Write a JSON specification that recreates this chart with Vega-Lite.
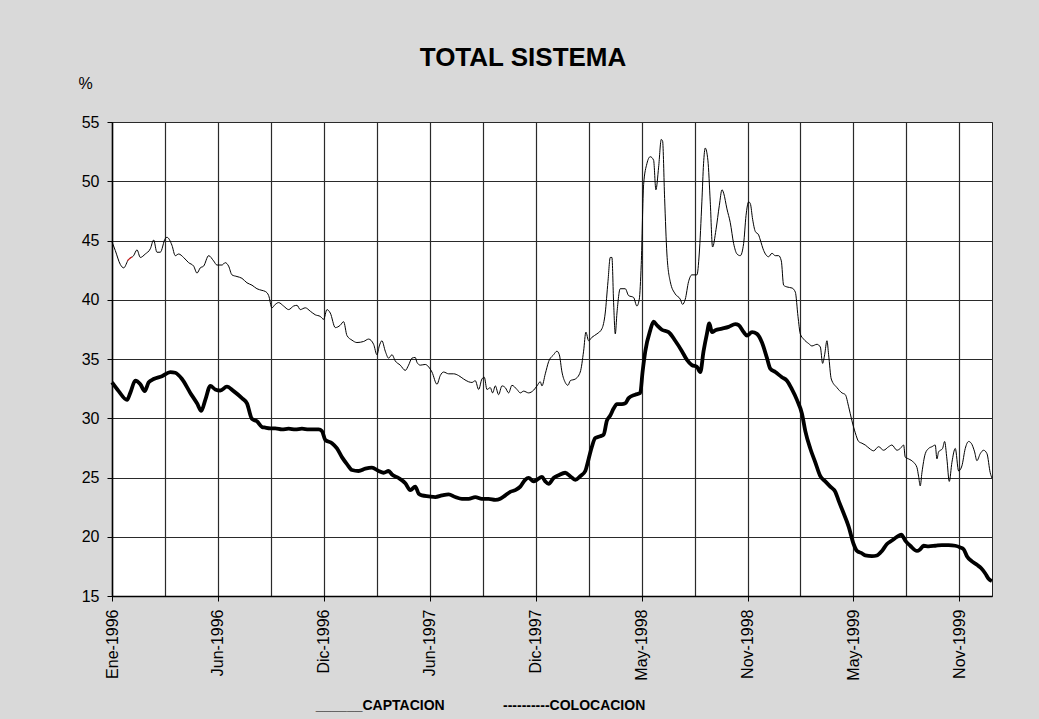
{
  "$schema": "https://vega.github.io/schema/vega-lite/v6.json",
  "width": 880,
  "height": 474,
  "autosize": {"type": "none"},
  "padding": {"left": 112, "top": 122, "right": 47, "bottom": 123},
  "background": "#d9d9d9",
  "title": {
    "text": "TOTAL SISTEMA",
    "font": "Liberation Sans",
    "fontSize": 26,
    "fontWeight": "bold",
    "color": "#000000",
    "anchor": "middle",
    "frame": "group",
    "dx": -29
  },
  "config": {
    "font": "Liberation Sans",
    "view": {"fill": "#ffffff", "stroke": "#222222", "strokeWidth": 1}
  },
  "datasets": {
    "colocacion": [
      {"dia":0,"tasa":44.89},{"dia":3.7,"tasa":44.16},{"dia":9.4,"tasa":42.98},{"dia":13.2,"tasa":42.69},{"dia":18.8,"tasa":43.42},{"dia":24.5,"tasa":43.72},{"dia":28.3,"tasa":44.21},{"dia":32.1,"tasa":43.57},{"dia":37.7,"tasa":43.86},{"dia":43.4,"tasa":44.3},{"dia":47.2,"tasa":45.04},{"dia":50.9,"tasa":44.01},{"dia":54.7,"tasa":44.01},{"dia":60.4,"tasa":45.18},{"dia":62.3,"tasa":45.27},{"dia":67.9,"tasa":44.6},{"dia":71.7,"tasa":43.72},{"dia":75.5,"tasa":43.86},{"dia":81.1,"tasa":43.57},{"dia":86.8,"tasa":43.13},{"dia":92.5,"tasa":42.84},{"dia":96.3,"tasa":42.25},{"dia":100,"tasa":42.69},{"dia":103.8,"tasa":42.84},{"dia":109.5,"tasa":43.72},{"dia":115.1,"tasa":43.28},{"dia":118.9,"tasa":42.93},{"dia":124.6,"tasa":42.93},{"dia":128.3,"tasa":43.13},{"dia":132.1,"tasa":42.84},{"dia":135.9,"tasa":42.1},{"dia":141.6,"tasa":41.96},{"dia":147.2,"tasa":41.81},{"dia":152.9,"tasa":41.43},{"dia":158.6,"tasa":41.23},{"dia":164.2,"tasa":40.93},{"dia":169.9,"tasa":40.79},{"dia":173.7,"tasa":40.7},{"dia":177.5,"tasa":40.35},{"dia":181.2,"tasa":39.32},{"dia":185,"tasa":39.61},{"dia":188.8,"tasa":39.76},{"dia":194.4,"tasa":39.47},{"dia":200.1,"tasa":39.17},{"dia":205.8,"tasa":39.47},{"dia":209.6,"tasa":39.53},{"dia":213.3,"tasa":39.17},{"dia":219,"tasa":39.32},{"dia":224.7,"tasa":39.03},{"dia":230.3,"tasa":38.73},{"dia":236,"tasa":38.59},{"dia":239.8,"tasa":38.35},{"dia":243.5,"tasa":39.17},{"dia":247.3,"tasa":38.88},{"dia":253,"tasa":37.65},{"dia":258.6,"tasa":37.85},{"dia":262.4,"tasa":38.15},{"dia":266.2,"tasa":36.98},{"dia":271.9,"tasa":36.59},{"dia":277.5,"tasa":36.39},{"dia":285.1,"tasa":36.48},{"dia":290.7,"tasa":36.68},{"dia":296.4,"tasa":36.24},{"dia":300.2,"tasa":35.36},{"dia":302.8,"tasa":36.1},{"dia":305.8,"tasa":36.54},{"dia":309.6,"tasa":35.66},{"dia":313.4,"tasa":35.07},{"dia":317.2,"tasa":35.36},{"dia":320.9,"tasa":34.84},{"dia":326.6,"tasa":34.48},{"dia":332.3,"tasa":34.04},{"dia":336,"tasa":34.48},{"dia":339.8,"tasa":35.07},{"dia":343.6,"tasa":35.13},{"dia":345.5,"tasa":34.72},{"dia":349.3,"tasa":34.48},{"dia":354.9,"tasa":34.54},{"dia":358.7,"tasa":34.34},{"dia":362.5,"tasa":33.9},{"dia":368.2,"tasa":32.87},{"dia":371.9,"tasa":33.6},{"dia":375.7,"tasa":33.9},{"dia":381.4,"tasa":33.75},{"dia":387.1,"tasa":33.75},{"dia":392.7,"tasa":33.6},{"dia":398.4,"tasa":33.31},{"dia":404,"tasa":33.08},{"dia":407.8,"tasa":33.02},{"dia":411.6,"tasa":33.17},{"dia":415.4,"tasa":32.43},{"dia":419.1,"tasa":33.31},{"dia":421.8,"tasa":33.46},{"dia":424.8,"tasa":32.43},{"dia":428.6,"tasa":32.58},{"dia":431.2,"tasa":32.14},{"dia":434.3,"tasa":32.73},{"dia":438,"tasa":31.99},{"dia":441.8,"tasa":32.73},{"dia":445.6,"tasa":32.58},{"dia":449.4,"tasa":32.14},{"dia":453.1,"tasa":32.78},{"dia":458.8,"tasa":32.43},{"dia":462.6,"tasa":32.14},{"dia":466.4,"tasa":32.29},{"dia":472,"tasa":32.14},{"dia":477.7,"tasa":32.37},{"dia":481.5,"tasa":32.73},{"dia":485.2,"tasa":33.08},{"dia":487.1,"tasa":32.73},{"dia":490.9,"tasa":33.75},{"dia":494.7,"tasa":34.78},{"dia":500.3,"tasa":35.36},{"dia":504.1,"tasa":35.66},{"dia":506.8,"tasa":35.36},{"dia":509.8,"tasa":33.9},{"dia":513.5,"tasa":33.02},{"dia":516.6,"tasa":32.78},{"dia":519.2,"tasa":33.17},{"dia":524.9,"tasa":33.31},{"dia":530.5,"tasa":33.9},{"dia":534.3,"tasa":35.66},{"dia":536.9,"tasa":37.27},{"dia":540,"tasa":36.54},{"dia":543.7,"tasa":36.83},{"dia":549.4,"tasa":37.12},{"dia":555.1,"tasa":37.56},{"dia":558.8,"tasa":38.88},{"dia":561.9,"tasa":41.52},{"dia":564.5,"tasa":43.57},{"dia":566.4,"tasa":43.57},{"dia":568.3,"tasa":39.76},{"dia":570.2,"tasa":37.12},{"dia":572.1,"tasa":38.88},{"dia":575.8,"tasa":40.93},{"dia":581.5,"tasa":40.93},{"dia":585.3,"tasa":40.35},{"dia":590.9,"tasa":40.2},{"dia":594.7,"tasa":39.47},{"dia":597.4,"tasa":40.05},{"dia":599.6,"tasa":42.98},{"dia":602.3,"tasa":49.72},{"dia":606,"tasa":51.48},{"dia":609.8,"tasa":52.07},{"dia":613.6,"tasa":51.78},{"dia":616.2,"tasa":49.28},{"dia":619.3,"tasa":51.19},{"dia":622.3,"tasa":53.53},{"dia":623.8,"tasa":53.39},{"dia":626.1,"tasa":48.55},{"dia":628.7,"tasa":43.86},{"dia":632.5,"tasa":41.52},{"dia":638.1,"tasa":40.49},{"dia":643.8,"tasa":40.05},{"dia":646.4,"tasa":39.61},{"dia":649.5,"tasa":40.05},{"dia":653.2,"tasa":41.52},{"dia":657,"tasa":42.1},{"dia":662.7,"tasa":42.1},{"dia":665.3,"tasa":43.86},{"dia":668.3,"tasa":48.26},{"dia":670.2,"tasa":51.48},{"dia":672.1,"tasa":52.8},{"dia":675.1,"tasa":51.78},{"dia":677.8,"tasa":48.26},{"dia":680.4,"tasa":44.45},{"dia":684.3,"tasa":45.91},{"dia":688.1,"tasa":47.97},{"dia":691.1,"tasa":49.28},{"dia":693,"tasa":48.99},{"dia":696.7,"tasa":47.67},{"dia":700.5,"tasa":46.5},{"dia":704.3,"tasa":44.74},{"dia":708.1,"tasa":43.86},{"dia":711.8,"tasa":43.72},{"dia":715.6,"tasa":44.74},{"dia":718.3,"tasa":47.09},{"dia":721.3,"tasa":48.26},{"dia":723.2,"tasa":48.11},{"dia":725.8,"tasa":46.79},{"dia":728.8,"tasa":45.77},{"dia":732.6,"tasa":45.47},{"dia":734.5,"tasa":45.04},{"dia":738.3,"tasa":44.16},{"dia":743.9,"tasa":43.63},{"dia":747.7,"tasa":43.92},{"dia":751.5,"tasa":43.72},{"dia":755.3,"tasa":43.72},{"dia":758.3,"tasa":43.28},{"dia":760.9,"tasa":41.23},{"dia":764.7,"tasa":41.08},{"dia":770.4,"tasa":40.99},{"dia":774.2,"tasa":40.64},{"dia":777.2,"tasa":38.59},{"dia":779.8,"tasa":37.12},{"dia":783.6,"tasa":36.68},{"dia":789.3,"tasa":36.3},{"dia":793,"tasa":36.1},{"dia":798.7,"tasa":36.24},{"dia":802.5,"tasa":36.01},{"dia":805.1,"tasa":34.63},{"dia":807.4,"tasa":35.36},{"dia":810,"tasa":36.54},{"dia":811.9,"tasa":35.36},{"dia":814.9,"tasa":33.31},{"dia":821.4,"tasa":32.58},{"dia":827,"tasa":32.14},{"dia":830.8,"tasa":31.99},{"dia":834.6,"tasa":30.97},{"dia":838.3,"tasa":29.79},{"dia":842.1,"tasa":28.77},{"dia":845.9,"tasa":28.04},{"dia":849.7,"tasa":27.89},{"dia":853.4,"tasa":27.74},{"dia":859.1,"tasa":27.39},{"dia":862.9,"tasa":27.25},{"dia":868.5,"tasa":27.6},{"dia":874.2,"tasa":27.3},{"dia":879.9,"tasa":27.6},{"dia":883.6,"tasa":27.74},{"dia":889.3,"tasa":27.3},{"dia":893.1,"tasa":27.45},{"dia":896.9,"tasa":27.74},{"dia":898.7,"tasa":26.72},{"dia":902.5,"tasa":26.57},{"dia":908.2,"tasa":26.28},{"dia":912,"tasa":25.84},{"dia":913.8,"tasa":25.11},{"dia":915.7,"tasa":24.29},{"dia":917.6,"tasa":25.4},{"dia":921.4,"tasa":27.01},{"dia":925.2,"tasa":27.45},{"dia":929,"tasa":27.6},{"dia":932.7,"tasa":27.74},{"dia":934.6,"tasa":26.57},{"dia":936.5,"tasa":27.16},{"dia":941,"tasa":27.45},{"dia":943.3,"tasa":28.04},{"dia":945.9,"tasa":26.57},{"dia":948.6,"tasa":24.67},{"dia":951.6,"tasa":26.28},{"dia":955.4,"tasa":27.45},{"dia":959.2,"tasa":25.55},{"dia":962.9,"tasa":25.98},{"dia":966.7,"tasa":27.45},{"dia":970.5,"tasa":28.04},{"dia":973.5,"tasa":27.89},{"dia":977.3,"tasa":27.16},{"dia":979.9,"tasa":26.42},{"dia":983.7,"tasa":27.01},{"dia":987.5,"tasa":27.3},{"dia":991.3,"tasa":27.01},{"dia":995,"tasa":25.4},{"dia":996.9,"tasa":24.96}
    ],
    "marca": [
      {"dia":17.5,"tasa":43.3},{"dia":22.5,"tasa":43.62}
    ],
    "captacion": [
      {"dia":0,"tasa":33.02},{"dia":7.5,"tasa":32.29},{"dia":17,"tasa":31.55},{"dia":20.7,"tasa":32.14},{"dia":26.4,"tasa":33.17},{"dia":32.1,"tasa":32.87},{"dia":37,"tasa":32.29},{"dia":41.5,"tasa":33.02},{"dia":47.2,"tasa":33.31},{"dia":56.6,"tasa":33.55},{"dia":66,"tasa":33.9},{"dia":71.7,"tasa":33.84},{"dia":79.3,"tasa":33.31},{"dia":88.7,"tasa":32.14},{"dia":96.3,"tasa":31.26},{"dia":101.2,"tasa":30.62},{"dia":105.7,"tasa":31.55},{"dia":111.4,"tasa":32.73},{"dia":117,"tasa":32.43},{"dia":122.7,"tasa":32.34},{"dia":130.2,"tasa":32.67},{"dia":137.8,"tasa":32.29},{"dia":147.2,"tasa":31.7},{"dia":152.9,"tasa":31.26},{"dia":158.6,"tasa":29.94},{"dia":164.2,"tasa":29.74},{"dia":169.9,"tasa":29.27},{"dia":173.7,"tasa":29.21},{"dia":179.3,"tasa":29.15},{"dia":185,"tasa":29.15},{"dia":192.6,"tasa":29.06},{"dia":200.1,"tasa":29.12},{"dia":207.7,"tasa":29.06},{"dia":215.2,"tasa":29.12},{"dia":222.8,"tasa":29.06},{"dia":234.1,"tasa":29.06},{"dia":237.9,"tasa":28.92},{"dia":241.6,"tasa":28.18},{"dia":249.2,"tasa":27.89},{"dia":254.9,"tasa":27.45},{"dia":260.5,"tasa":26.72},{"dia":266.2,"tasa":26.13},{"dia":271.9,"tasa":25.63},{"dia":279.4,"tasa":25.55},{"dia":287,"tasa":25.75},{"dia":294.5,"tasa":25.84},{"dia":302.1,"tasa":25.55},{"dia":307.7,"tasa":25.4},{"dia":313.4,"tasa":25.55},{"dia":317.2,"tasa":25.25},{"dia":324.7,"tasa":24.96},{"dia":332.3,"tasa":24.52},{"dia":338,"tasa":23.93},{"dia":343.6,"tasa":24.23},{"dia":347.4,"tasa":23.64},{"dia":351.2,"tasa":23.49},{"dia":358.7,"tasa":23.41},{"dia":366.3,"tasa":23.35},{"dia":373.8,"tasa":23.49},{"dia":381.4,"tasa":23.58},{"dia":388.9,"tasa":23.35},{"dia":396.5,"tasa":23.2},{"dia":404,"tasa":23.2},{"dia":411.6,"tasa":23.35},{"dia":419.1,"tasa":23.2},{"dia":426.7,"tasa":23.2},{"dia":434.3,"tasa":23.11},{"dia":439.9,"tasa":23.2},{"dia":445.6,"tasa":23.49},{"dia":451.2,"tasa":23.79},{"dia":456.9,"tasa":23.93},{"dia":462.6,"tasa":24.23},{"dia":468.2,"tasa":24.81},{"dia":472,"tasa":24.96},{"dia":477.7,"tasa":24.67},{"dia":481.5,"tasa":24.81},{"dia":487.1,"tasa":25.05},{"dia":490.9,"tasa":24.67},{"dia":494.7,"tasa":24.46},{"dia":500.3,"tasa":24.96},{"dia":506,"tasa":25.19},{"dia":513.5,"tasa":25.4},{"dia":519.2,"tasa":25.11},{"dia":524.9,"tasa":24.81},{"dia":530.5,"tasa":25.11},{"dia":536.2,"tasa":25.55},{"dia":540,"tasa":26.57},{"dia":543.7,"tasa":27.6},{"dia":547.5,"tasa":28.33},{"dia":553.2,"tasa":28.48},{"dia":557,"tasa":28.62},{"dia":560.7,"tasa":29.79},{"dia":564.5,"tasa":30.23},{"dia":568.3,"tasa":30.82},{"dia":572.1,"tasa":31.2},{"dia":577.7,"tasa":31.2},{"dia":581.5,"tasa":31.26},{"dia":585.3,"tasa":31.7},{"dia":592.8,"tasa":31.99},{"dia":598.5,"tasa":32.14},{"dia":601.1,"tasa":33.9},{"dia":604.2,"tasa":35.66},{"dia":609.8,"tasa":37.42},{"dia":613.6,"tasa":38.15},{"dia":617.4,"tasa":37.85},{"dia":623,"tasa":37.47},{"dia":630.6,"tasa":37.27},{"dia":638.1,"tasa":36.54},{"dia":645.7,"tasa":35.66},{"dia":651.4,"tasa":34.92},{"dia":657,"tasa":34.48},{"dia":662.7,"tasa":34.34},{"dia":666.5,"tasa":33.9},{"dia":670.2,"tasa":35.66},{"dia":674,"tasa":37.12},{"dia":676.7,"tasa":38.0},{"dia":679.8,"tasa":37.27},{"dia":683.5,"tasa":37.42},{"dia":691.1,"tasa":37.56},{"dia":698.6,"tasa":37.71},{"dia":706.2,"tasa":37.94},{"dia":710,"tasa":37.85},{"dia":715.6,"tasa":37.27},{"dia":719.4,"tasa":36.98},{"dia":725.1,"tasa":37.27},{"dia":730.7,"tasa":37.12},{"dia":736.4,"tasa":36.39},{"dia":742.1,"tasa":35.07},{"dia":745.8,"tasa":34.19},{"dia":751.5,"tasa":33.9},{"dia":759,"tasa":33.46},{"dia":764.7,"tasa":33.17},{"dia":770.4,"tasa":32.43},{"dia":776,"tasa":31.55},{"dia":781.7,"tasa":30.38},{"dia":785.5,"tasa":28.92},{"dia":791.1,"tasa":27.45},{"dia":796.8,"tasa":26.28},{"dia":802.5,"tasa":25.11},{"dia":808.1,"tasa":24.67},{"dia":813.8,"tasa":24.23},{"dia":819.5,"tasa":23.79},{"dia":823.2,"tasa":23.05},{"dia":827.9,"tasa":22.17},{"dia":834.6,"tasa":20.86},{"dia":840.2,"tasa":19.39},{"dia":844,"tasa":18.8},{"dia":849.7,"tasa":18.6},{"dia":853.4,"tasa":18.42},{"dia":861,"tasa":18.36},{"dia":866.6,"tasa":18.42},{"dia":872.3,"tasa":18.8},{"dia":878,"tasa":19.39},{"dia":883.6,"tasa":19.68},{"dia":889.3,"tasa":19.98},{"dia":894.2,"tasa":20.18},{"dia":898.7,"tasa":19.68},{"dia":904.4,"tasa":19.24},{"dia":912,"tasa":18.8},{"dia":915.7,"tasa":18.95},{"dia":919.5,"tasa":19.24},{"dia":925.2,"tasa":19.19},{"dia":932.7,"tasa":19.24},{"dia":940.3,"tasa":19.3},{"dia":947.8,"tasa":19.3},{"dia":955.4,"tasa":19.24},{"dia":961,"tasa":19.1},{"dia":964.8,"tasa":18.95},{"dia":968.6,"tasa":18.36},{"dia":974.3,"tasa":17.92},{"dia":979.9,"tasa":17.63},{"dia":984.8,"tasa":17.34},{"dia":989.4,"tasa":16.9},{"dia":993.1,"tasa":16.46},{"dia":996.9,"tasa":16.25}
    ]
  },
  "encoding": {
    "x": {
      "field": "dia",
      "type": "quantitative",
      "scale": {"domain": [0, 997], "nice": false, "zero": false},
      "axis": {
        "values": [0, 60, 120, 180, 240, 300, 360, 420, 480, 540, 600, 660, 720, 780, 840, 900, 960],
        "labelExpr": "datum.value % 120 == 0 ? ['Ene-1996','Jun-1996','Dic-1996','Jun-1997','Dic-1997','May-1998','Nov-1998','May-1999','Nov-1999'][datum.value / 120] : ''",
        "labelAngle": -90,
        "labelAlign": "right",
        "labelBaseline": "middle",
        "labelFont": "Liberation Sans",
        "labelFontSize": 16,
        "labelColor": "#000000",
        "labelPadding": 8,
        "labelOverlap": false,
        "tickSize": 5,
        "tickColor": "#000000",
        "tickOpacity": {"condition": {"test": "datum.value % 120 != 0", "value": 0}, "value": 1},
        "grid": true,
        "gridColor": "#2a2a2a",
        "gridWidth": 1.2,
        "gridOpacity": 1,
        "domainColor": "#000000",
        "domainWidth": 1.5,
        "title": "______CAPTACION\u00a0\u00a0\u00a0\u00a0\u00a0\u00a0\u00a0\u00a0\u00a0\u00a0\u00a0\u00a0\u00a0\u00a0\u00a0----------COLOCACION",
        "titleFont": "Liberation Sans",
        "titleFontSize": 14,
        "titleFontWeight": "bold",
        "titleColor": "#000000",
        "titleX": 368,
        "titleY": 109,
        "titleAlign": "center",
        "titleBaseline": "middle"
      }
    },
    "y": {
      "field": "tasa",
      "type": "quantitative",
      "scale": {"domain": [15, 55], "nice": false, "zero": false},
      "axis": {
        "values": [15, 20, 25, 30, 35, 40, 45, 50, 55],
        "labelFont": "Liberation Sans",
        "labelFontSize": 16,
        "labelColor": "#000000",
        "labelPadding": 8,
        "tickSize": 5,
        "tickColor": "#000000",
        "grid": true,
        "gridColor": "#2a2a2a",
        "gridWidth": 1.2,
        "gridOpacity": 1,
        "domainColor": "#000000",
        "domainWidth": 1.5,
        "title": "%",
        "titleFont": "Liberation Sans",
        "titleFontSize": 16,
        "titleFontWeight": "normal",
        "titleColor": "#000000",
        "titleAngle": 0,
        "titleX": -27,
        "titleY": -39,
        "titleAlign": "center",
        "titleBaseline": "middle"
      }
    }
  },
  "layer": [
    {
      "data": {"name": "colocacion"},
      "mark": {"type": "line", "color": "#000000", "strokeWidth": 1, "interpolate": "monotone"}
    },
    {
      "data": {"name": "marca"},
      "mark": {"type": "line", "color": "#e02020", "strokeWidth": 1.2}
    },
    {
      "data": {"name": "captacion"},
      "mark": {"type": "line", "color": "#000000", "strokeWidth": 3.8, "interpolate": "monotone"}
    }
  ]
}
